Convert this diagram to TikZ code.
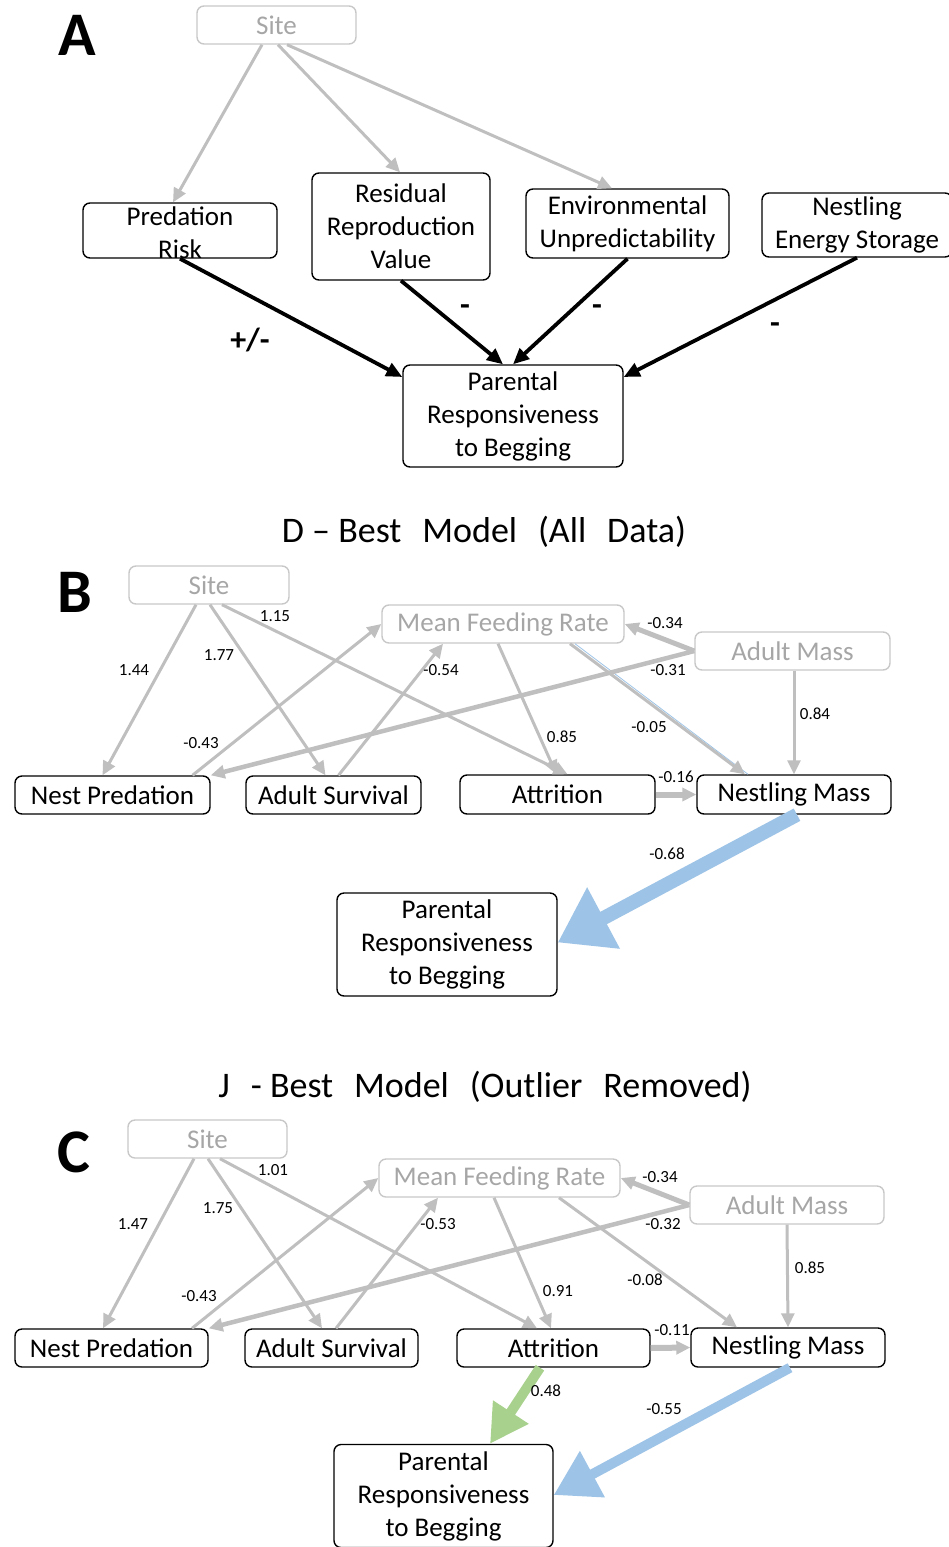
\documentclass[tikz,border=0pt]{standalone}
\usepackage{fontspec}
\setmainfont{Carlito}
\usetikzlibrary{arrows.meta}
\definecolor{edgegrey}{RGB}{191,191,191}
\definecolor{boxgrey}{RGB}{200,200,200}
\definecolor{textgrey}{RGB}{166,166,166}
\definecolor{massblue}{RGB}{157,195,230}
\definecolor{attrgreen}{RGB}{169,209,142}
\newcommand{\boxfont}{\fontsize{27}{33}\selectfont}
\newcommand{\coeffont}{\fontsize{17}{20}\selectfont}
\newcommand{\titlefont}{\fontsize{36}{42}\selectfont}
\newcommand{\panelfont}{\fontsize{62}{70}\selectfont\bfseries}
\newcommand{\signfont}{\fontsize{32}{36}\selectfont\bfseries}
\newcommand{\wgap}{\hspace{0.58em}}
\tikzset{
    varbox/.style={draw, rounded corners=7, line width=1.4, inner sep=0, align=center, font=\boxfont},
    greybox/.style={varbox, draw=boxgrey, text=textgrey},
    coef/.style={font=\coeffont, inner sep=0},
    greyarrow/.style={draw=edgegrey, line width=3, -{Triangle[length=14, width=13]}},
    blackarrow/.style={line width=3.8, -{Triangle[length=16, width=14]}},
}
\begin{document}
\begin{tikzpicture}[x=1pt, y=-1pt]
    \useasboundingbox (0,0) rectangle (948,1547);
    \node[font=\panelfont] (labelA) at (77,35) {A};
    \node[greybox, minimum width=159, minimum height=38] (siteA) at (276.5,25) {Site};
    \node[varbox, minimum width=194, minimum height=55] (predA) at (180,230.5) {};
    \node[font=\boxfont, align=center, inner sep=0] (predAtext) at (180,233) {Predation\\Risk};
    \node[varbox, minimum width=178, minimum height=107] (resA) at (401,226.5) {Residual\\Reproduction\\Value};
    \node[varbox, minimum width=203, minimum height=69] (envA) at (627.5,223.5) {Environmental\\Unpredictability};
    \node[varbox, minimum width=190, minimum height=64] (nesA) at (857,225) {Nestling\\Energy Storage};
    \node[varbox, minimum width=220, minimum height=102] (parA) at (513,416) {Parental\\Responsiveness\\to Begging};
    \draw[greyarrow] ([xshift=-14.5]siteA.south) -- ([xshift=-7]predA.north);
    \draw[greyarrow] ([xshift=1.5]siteA.south) -- ([xshift=-1]resA.north);
    \draw[greyarrow] ([xshift=10.5]siteA.south) -- ([xshift=-15.5]envA.north);
    \draw[blackarrow] (predA.south) -- ([yshift=39]parA.west);
    \draw[blackarrow] (resA.south) -- ([xshift=-10]parA.north);
    \draw[blackarrow] (envA.south) -- (parA.north);
    \draw[blackarrow] (nesA.south) -- ([yshift=39]parA.east);
    \node[font=\signfont] (signPred) at (250,340) {+/-};
    \node[font=\signfont] (signRes) at (465,310) {-};
    \node[font=\signfont] (signEnv) at (597,310) {-};
    \node[font=\signfont] (signNes) at (775,328) {-};

    \node[font=\titlefont] (titleB) at (484,532) {D – Best\wgap Model\wgap(All\wgap Data)};
    \node[font=\panelfont] (labelB) at (75,592) {B};
    \node[greybox, minimum width=160, minimum height=38] (siteB) at (209,585) {Site};
    \node[greybox, minimum width=242, minimum height=38] (mfrB) at (503,624) {Mean Feeding Rate};
    \node[greybox, minimum width=195, minimum height=38] (amB) at (792.5,651) {Adult Mass};
    \node[varbox, minimum width=195, minimum height=38] (npB) at (112.5,795) {Nest Predation};
    \node[varbox, minimum width=175, minimum height=38] (asB) at (333.5,795) {Adult Survival};
    \node[varbox, minimum width=195, minimum height=39] (atB) at (557.5,794.5) {Attrition};
    \node[varbox, minimum width=194, minimum height=39] (nmB) at (794,794.5) {Nestling Mass};
    \node[varbox, minimum width=220, minimum height=103] (prB) at (447,944.5) {Parental\\Responsiveness\\to Begging};
    \draw[greyarrow] ([xshift=-13]siteB.south) -- ([xshift=-10]npB.north);
    \draw[greyarrow] ([xshift=1]siteB.south) -- ([xshift=-8]asB.north);
    \draw[greyarrow] ([xshift=13]siteB.south) -- ([xshift=10]atB.north);
    \draw[greyarrow] ([xshift=80]npB.north) -- (mfrB.west);
    \draw[greyarrow] ([xshift=5]asB.north) -- ([xshift=-60]mfrB.south);
    \draw[greyarrow] ([xshift=-5]mfrB.south) -- ([xshift=-1]atB.north);
    \draw[massblue, line width=0.8] ([xshift=72]mfrB.south) -- ([xshift=-46]nmB.north);
    \draw[greyarrow] ([xshift=67]mfrB.south) -- ([xshift=-49]nmB.north);
    \draw[greyarrow, line width=5] (amB.west) -- (mfrB.east);
    \draw[greyarrow, line width=4.5] (amB.west) -- (npB.north east);
    \draw[greyarrow] ([xshift=1.5]amB.south) -- (nmB.north);
    \draw[greyarrow, line width=6] (atB.east) -- (nmB.west);
    \draw[massblue, line width=14, -{Triangle[length=52, width=66]}] ([xshift=3]nmB.south) -- ([yshift=2]prB.east);
    \node[coef] (cB1) at (134,670) {1.44};
    \node[coef] (cB2) at (219,655) {1.77};
    \node[coef] (cB3) at (275,616) {1.15};
    \node[coef] (cB4) at (201,743) {-0.43};
    \node[coef] (cB5) at (441,670) {-0.54};
    \node[coef] (cB6) at (562,737) {0.85};
    \node[coef] (cB7) at (649,727) {-0.05};
    \node[coef] (cB8) at (665,623) {-0.34};
    \node[coef] (cB9) at (668,670) {-0.31};
    \node[coef] (cB10) at (815,714) {0.84};
    \node[coef] (cB11) at (676,777) {-0.16};
    \node[coef] (cB12) at (667,854) {-0.68};

    \node[font=\titlefont] (titleC) at (485,1087) {J\wgap - Best\wgap Model\wgap(Outlier\wgap Removed)};
    \node[font=\panelfont] (labelC) at (74,1152) {C};
    \node[greybox, minimum width=159, minimum height=38] (siteC) at (207.5,1139) {Site};
    \node[greybox, minimum width=241, minimum height=38] (mfrC) at (499.5,1178) {Mean Feeding Rate};
    \node[greybox, minimum width=194, minimum height=38] (amC) at (787,1205) {Adult Mass};
    \node[varbox, minimum width=193, minimum height=38] (npC) at (111.5,1348) {Nest Predation};
    \node[varbox, minimum width=173, minimum height=38] (asC) at (331.5,1348) {Adult Survival};
    \node[varbox, minimum width=193, minimum height=38] (atC) at (553.5,1348) {Attrition};
    \node[varbox, minimum width=194, minimum height=39] (nmC) at (788,1347.5) {Nestling Mass};
    \node[varbox, minimum width=219, minimum height=103] (prC) at (443.5,1496) {Parental\\Responsiveness\\to Begging};
    \draw[greyarrow] ([xshift=-13.5]siteC.south) -- ([xshift=-8.5]npC.north);
    \draw[greyarrow] ([xshift=0.5]siteC.south) -- ([xshift=-9.5]asC.north);
    \draw[greyarrow] ([xshift=12.5]siteC.south) -- ([xshift=-16.5]atC.north);
    \draw[greyarrow] ([xshift=80.5]npC.north) -- (mfrC.west);
    \draw[greyarrow] ([xshift=4.5]asC.north) -- ([xshift=-61.5]mfrC.south);
    \draw[greyarrow] ([xshift=-5.5]mfrC.south) -- ([xshift=-2.5]atC.north);
    \draw[greyarrow] ([xshift=59.5]mfrC.south) -- ([xshift=-51]nmC.north);
    \draw[greyarrow, line width=5] (amC.west) -- (mfrC.east);
    \draw[greyarrow, line width=4.5] (amC.west) -- (npC.north east);
    \draw[greyarrow] (amC.south) -- (nmC.north);
    \draw[greyarrow, line width=6] (atC.east) -- (nmC.west);
    \draw[attrgreen, line width=10, -{Triangle[length=38, width=40]}] ([xshift=-13.5]atC.south) -- ([xshift=46.5]prC.north);
    \draw[massblue, line width=10, -{Triangle[length=44, width=50]}] ([xshift=2]nmC.south) -- ([yshift=1]prC.east);
    \node[coef] (cC1) at (133,1224) {1.47};
    \node[coef] (cC2) at (218,1208) {1.75};
    \node[coef] (cC3) at (273,1170) {1.01};
    \node[coef] (cC4) at (199,1296) {-0.43};
    \node[coef] (cC5) at (438,1224) {-0.53};
    \node[coef] (cC6) at (558,1291) {0.91};
    \node[coef] (cC7) at (645,1280) {-0.08};
    \node[coef] (cC8) at (660,1177) {-0.34};
    \node[coef] (cC9) at (663,1224) {-0.32};
    \node[coef] (cC10) at (810,1268) {0.85};
    \node[coef] (cC11) at (672,1330) {-0.11};
    \node[coef] (cC12) at (546,1391) {0.48};
    \node[coef] (cC13) at (664,1409) {-0.55};
\end{tikzpicture}
\end{document}
